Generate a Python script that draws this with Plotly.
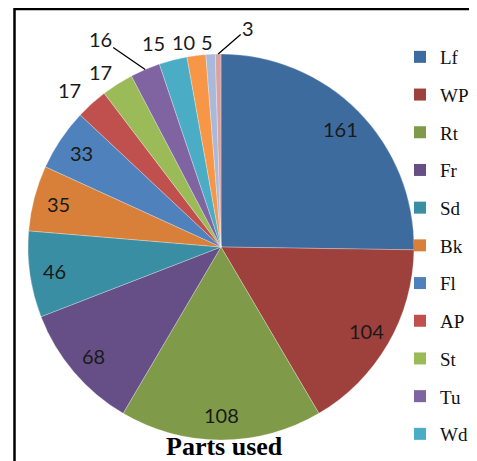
import math
import plotly.graph_objects as go

labels = ["Lf", "WP", "Rt", "Fr", "Sd", "Bk", "Fl", "AP", "St", "Tu", "Wd", "Rz", "Lx", "Gm"]
values = [161, 104, 108, 68, 46, 35, 33, 17, 17, 16, 15, 10, 5, 3]
colors = ["#3E6B9E", "#9E403C", "#7F9A49", "#664F87", "#3A8EA3", "#D8803A", "#4F81BD",
          "#C0504D", "#9BBB59", "#8064A2", "#4BACC6", "#F79646", "#A9B9D9", "#D8A3A2"]
legend_count = 11  # entries visible in the (cropped) legend
title_text = "Parts used"

# page body has an 8px margin, so the figure is laid out 8px smaller and shifted
OFF = 8
W, H = 477 - OFF, 461 - OFF
cx, cy, r = 221 - OFF, 247 - OFF, 193
n_inside = 7
inside_frac = 0.87
# pixel offsets of outside labels from the slice's outer edge, and whether a leader line is drawn
outside_style = [(-22, -14, False), (-17, -12, False), (-45, -31, True), (-20, -17, False),
                 (-13, -14, False), (-4, -12, False), (30, -26, True)]

fig = go.Figure()
fig.add_trace(go.Pie(
    labels=labels, values=values, sort=False, direction="clockwise", rotation=0,
    marker=dict(colors=colors, line=dict(color="rgba(255,255,255,0.45)", width=0.6)),
    textinfo="none", showlegend=False, hoverinfo="label+value",
    domain=dict(x=[(cx - r) / W, (cx + r) / W], y=[(H - cy - r) / H, (H - cy + r) / H]),
))

for i in range(legend_count):
    fig.add_trace(go.Scatter(
        x=[None], y=[None], mode="markers", name=labels[i], legendgroup=labels[i],
        marker=dict(symbol="square", size=12, color=colors[i]), showlegend=True,
    ))

# data labels positioned from the slice angles
total = sum(values)
annotations = []
cum = 0
lab_font = dict(family="Lato", size=20, color="#1a1a1a")
for i, v in enumerate(values):
    mid = (cum + v / 2) / total * 2 * math.pi
    cum += v
    if i < n_inside:
        rr = r * inside_frac
        px = cx + rr * math.sin(mid)
        py = cy - rr * math.cos(mid)
        annotations.append(dict(text=str(v), x=px / W, y=(H - py) / H, xref="paper", yref="paper",
                                xanchor="center", yanchor="middle",
                                showarrow=False, font=lab_font))
    else:
        ax, ay, line = outside_style[i - n_inside]
        px = cx + r * math.sin(mid)
        py = cy - r * math.cos(mid)
        annotations.append(dict(text=str(v), x=px / W, y=(H - py) / H, xref="paper", yref="paper",
                                showarrow=True, ax=ax, ay=ay, arrowhead=0, arrowwidth=1.3,
                                standoff=0, startstandoff=0,
                                arrowcolor="black" if line else "rgba(0,0,0,0)", font=lab_font))

annotations.append(dict(text="<b>" + title_text + "</b>", x=(224 - OFF) / W, y=(H - (446 - OFF)) / H,
                        xref="paper", yref="paper", xanchor="center", yanchor="middle",
                        showarrow=False,
                        font=dict(family="Liberation Serif", size=26, color="black")))

fig.update_layout(
    width=W, height=H, margin=dict(l=0, r=0, t=0, b=0, autoexpand=False),
    paper_bgcolor="white", plot_bgcolor="white",
    xaxis=dict(visible=False), yaxis=dict(visible=False),
    legend=dict(xref="container", yref="container", x=(400 - OFF) / W, xanchor="left",
                y=1 - (38 - OFF) / H, yanchor="top", maxheight=440,
                font=dict(family="Liberation Serif", size=19, color="#111"),
                tracegroupgap=10, itemwidth=30, bgcolor="rgba(0,0,0,0)"),
    annotations=annotations,
    shapes=[dict(type="rect", xref="paper", yref="paper", x0=(14.5 - OFF) / W, x1=1.2,
                 y0=1 - (9 - OFF) / H, y1=-0.2, line=dict(color="black", width=2.5))],
)

fig.write_html("out.html")
